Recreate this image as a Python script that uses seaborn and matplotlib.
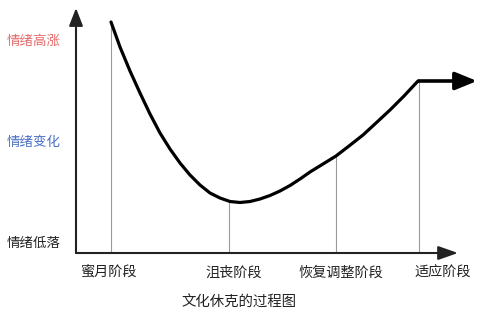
import matplotlib
matplotlib.use("Agg")
import matplotlib.pyplot as plt
import seaborn as sns
import pandas as pd

sns.set_theme(style="white")
plt.rcParams['font.family'] = ['Noto Sans CJK SC', 'DejaVu Sans']

# --- data ---
stages = ["蜜月阶段", "沮丧阶段", "恢复调整阶段", "适应阶段"]
stage_t = [35, 153, 260, 343]
stage_e = [231, 51, 97, 172]
curve_t = [35, 44, 54, 64, 74, 84, 94, 104, 114, 124, 134, 144, 154, 164, 174,
           184, 194, 204, 214, 224, 234, 247, 260, 273, 287, 300, 314, 328, 342]
curve_e = [231, 206, 182, 160, 139, 120, 104, 90, 78, 68, 60, 55, 51.5, 50.5, 51.5,
           54, 57.5, 62, 67.5, 74, 81, 89, 97, 107, 118, 130, 143, 157, 172]
plateau_t = [342, 401]
plateau_e = [172, 172]
levels = ["情绪高涨", "情绪变化", "情绪低落"]
level_e = [212, 111, 10]
level_colors = ["#e56b6b", "#4a6fc4", "#222222"]
title = "文化休克的过程图"

df = pd.DataFrame({"t": curve_t, "e": curve_e})

fig = plt.figure(figsize=(4.87, 3.11), dpi=100)
ax = fig.add_axes([0, 0, 1, 1])
ax.set_xlim(-76, 411)
ax.set_ylim(-58, 253)
ax.axis("off")

# gray guide lines
for t, e in zip(stage_t, stage_e):
    ax.plot([t, t], [0, e], color="#9a9a9a", lw=0.8, zorder=1)

# curve
sns.lineplot(data=df, x="t", y="e", sort=False, ax=ax, color="black", lw=2.3,
             zorder=3, legend=False)
ax.plot(plateau_t[:1] + [plateau_t[1] - 12], plateau_e, color="black", lw=2.6,
        zorder=3, solid_capstyle="butt")
ax.annotate("", xy=(plateau_t[1], plateau_e[1]), xytext=(plateau_t[1] - 16, plateau_e[1]),
            arrowprops=dict(arrowstyle="-|>,head_length=1.1,head_width=0.45",
                            color="black", lw=2.6, shrinkA=0, shrinkB=0))

# axes arrows
ax.annotate("", xy=(0, 245), xytext=(0, 0),
            arrowprops=dict(arrowstyle="-|>,head_length=0.9,head_width=0.35",
                            color="#222222", lw=1.5, shrinkA=0, shrinkB=0))
ax.annotate("", xy=(382, 0), xytext=(0, 0),
            arrowprops=dict(arrowstyle="-|>,head_length=1.0,head_width=0.35",
                            color="#222222", lw=1.5, shrinkA=0, shrinkB=0))

# level labels
for lab, e, c in zip(levels, level_e, level_colors):
    ax.text(-42, e, lab, color=c, fontsize=9.7, ha="center", va="center")

# stage labels
label_t = [33, 158, 265, 367]
for lab, t in zip(stages, label_t):
    ax.text(t, -20, lab, fontsize=10.2, ha="center", va="center", color="#222222")

ax.text(163, -49, title, fontsize=10.4, ha="center", va="center", color="#222222")

fig.savefig("out.png", dpi=100)
